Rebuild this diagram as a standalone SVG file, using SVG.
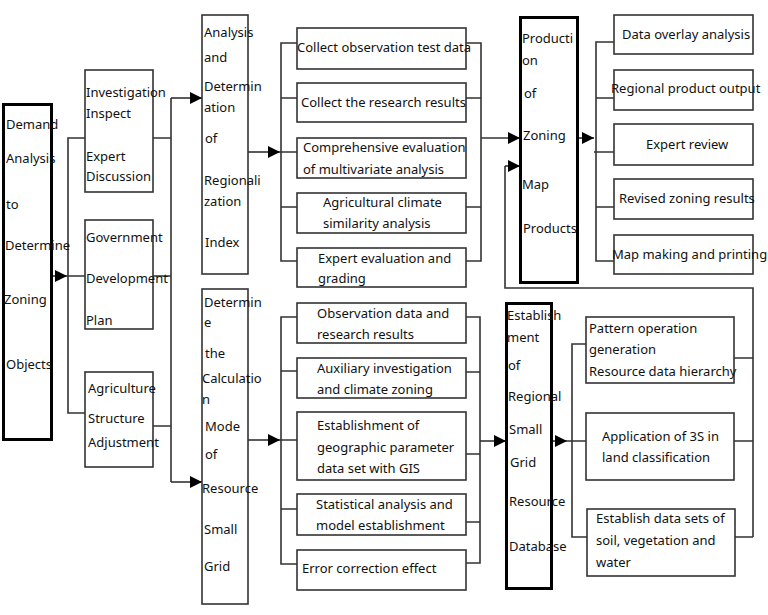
<svg xmlns="http://www.w3.org/2000/svg" width="768" height="615" viewBox="0 0 768 615">
<defs>
<marker id="ah" viewBox="0 0 12 12" refX="12" refY="6" markerWidth="13" markerHeight="12" markerUnits="userSpaceOnUse" orient="auto">
<path d="M0,0 L12,6 L0,12 z" fill="#000"/>
</marker>
<style>
.b{fill:#fff;stroke:#333;stroke-width:1.6}
.tb{fill:#fff;stroke:#000;stroke-width:3}
.c{fill:none;stroke:#333;stroke-width:1.6}
.a{fill:none;stroke:#333;stroke-width:1.6;marker-end:url(#ah)}
text{font-family:"Noto Sans","Open Sans","DejaVu Sans",sans-serif;font-size:13px;fill:#111}
</style>
</defs>
<rect width="768" height="615" fill="#fff"/>

<g id="connectors">
<path class="a" d="M52,276 H67"/>
<path class="c" d="M67,276 H85 M85,138 H68 V413 H85"/>
<path class="c" d="M153,138 H171 M153,276 H171 M153,426 H171 M171,98 V482"/>
<path class="a" d="M171,98 H202"/>
<path class="a" d="M171,482 H202"/>
<path class="a" d="M248,152 H280"/>
<path class="c" d="M297,43 H281 V261 H297 M281,98 H297 M280,152 H297 M281,207 H297"/>
<path class="c" d="M466,43 H481 V261 H466 M466,98 H481 M466,207 H481"/>
<path class="a" d="M481,138 H520"/>
<path class="a" d="M578,138 H594"/>
<path class="c" d="M614,42 H596 V261 H614 M596,98 H614 M594,152 H614 M596,207 H614"/>
<path class="a" d="M248,440 H280"/>
<path class="c" d="M297,317 H281 V564 H297 M281,371 H297 M280,440 H297 M281,509 H297"/>
<path class="c" d="M466,317 H480 V563 H466 M466,372 H480 M466,454 H480 M466,522 H480"/>
<path class="a" d="M480,441 H506"/>
<path class="a" d="M552,441 H567"/>
<path class="c" d="M586,344 H572 V537 H587 M567,441 H586"/>
<path class="c" d="M734,358 H753 M734,441 H753 M735,537 H753 M753,537 V288 H505 V166"/>
<path class="a" d="M505,166 H520"/>
</g>

<g id="n-demand">
<rect class="tb" x="3.5" y="104.5" width="48" height="335"/>
<text x="6" y="129">Demand</text>
<text x="6" y="163">Analysis</text>
<text x="6" y="209">to</text>
<text x="5" y="250">Determine</text>
<text x="4" y="304">Zoning</text>
<text x="6" y="369">Objects</text>
</g>

<g id="n-investigation">
<rect class="b" x="85" y="70" width="68" height="122"/>
<text x="86" y="97">Investigation</text>
<text x="86" y="118">Inspect</text>
<text x="86" y="161">Expert</text>
<text x="86" y="181">Discussion</text>
</g>

<g id="n-government">
<rect class="b" x="85" y="220" width="68" height="109"/>
<text x="86" y="242">Government</text>
<text x="86" y="283">Development</text>
<text x="86" y="325">Plan</text>
</g>

<g id="n-agriculture">
<rect class="b" x="85" y="372" width="68" height="95"/>
<text x="88" y="393">Agriculture</text>
<text x="88" y="423">Structure</text>
<text x="88" y="447">Adjustment</text>
</g>

<g id="n-analysis">
<rect class="b" x="202" y="15" width="46" height="259"/>
<text x="204" y="37">Analysis</text>
<text x="204" y="62">and</text>
<text x="204" y="91">Determin</text>
<text x="204" y="112">ation</text>
<text x="205" y="143">of</text>
<text x="204" y="185">Regionali</text>
<text x="204" y="206">zation</text>
<text x="205" y="247">Index</text>
</g>

<g id="n-determine">
<rect class="b" x="202" y="289" width="46" height="315"/>
<text x="204" y="307">Determin</text>
<text x="204" y="327">e</text>
<text x="205" y="358">the</text>
<text x="202" y="383">Calculatio</text>
<text x="202" y="404">n</text>
<text x="205" y="431">Mode</text>
<text x="205" y="459">of</text>
<text x="202" y="493">Resource</text>
<text x="204" y="534">Small</text>
<text x="204" y="571">Grid</text>
</g>

<g id="n-collect-obs">
<rect class="b" x="297" y="28" width="169" height="41"/>
<text x="297" y="52">Collect observation test data</text>
</g>
<g id="n-collect-res">
<rect class="b" x="297" y="83" width="169" height="39"/>
<text x="301" y="107">Collect the research results</text>
</g>
<g id="n-comprehensive">
<rect class="b" x="297" y="138" width="169" height="40"/>
<text x="303" y="152">Comprehensive evaluation</text>
<text x="303" y="174">of multivariate analysis</text>
</g>
<g id="n-agri-climate">
<rect class="b" x="297" y="193" width="169" height="40"/>
<text x="323" y="207">Agricultural climate</text>
<text x="323" y="228">similarity analysis</text>
</g>
<g id="n-expert-eval">
<rect class="b" x="297" y="248" width="169" height="39"/>
<text x="318" y="263">Expert evaluation and</text>
<text x="318" y="283">grading</text>
</g>

<g id="n-observation">
<rect class="b" x="297" y="303" width="169" height="40"/>
<text x="317" y="318">Observation data and</text>
<text x="317" y="339">research results</text>
</g>
<g id="n-auxiliary">
<rect class="b" x="297" y="358" width="169" height="40"/>
<text x="317" y="373">Auxiliary investigation</text>
<text x="317" y="394">and climate zoning</text>
</g>
<g id="n-gis">
<rect class="b" x="297" y="412" width="169" height="68"/>
<text x="317" y="430">Establishment of</text>
<text x="317" y="452">geographic parameter</text>
<text x="317" y="473">data set with GIS</text>
</g>
<g id="n-statistical">
<rect class="b" x="297" y="494" width="169" height="41"/>
<text x="316" y="509">Statistical analysis and</text>
<text x="316" y="530">model establishment</text>
</g>
<g id="n-error">
<rect class="b" x="297" y="550" width="169" height="40"/>
<text x="302" y="573">Error correction effect</text>
</g>

<g id="n-production">
<rect class="tb" x="520.5" y="17.5" width="57" height="265"/>
<text x="522" y="43">Producti</text>
<text x="522" y="65">on</text>
<text x="524" y="98">of</text>
<text x="523" y="140">Zoning</text>
<text x="522" y="189">Map</text>
<text x="523" y="233">Products</text>
</g>

<g id="n-database">
<rect class="tb" x="506.5" y="303.5" width="45" height="285"/>
<text x="507" y="320">Establish</text>
<text x="507" y="342">ment</text>
<text x="508" y="370">of</text>
<text x="508" y="401">Regional</text>
<text x="509" y="434">Small</text>
<text x="510" y="467">Grid</text>
<text x="509" y="506">Resource</text>
<text x="509" y="551">Database</text>
</g>

<g id="n-overlay">
<rect class="b" x="614" y="15" width="139" height="39"/>
<text x="622" y="39">Data overlay analysis</text>
</g>
<g id="n-regional-output">
<rect class="b" x="614" y="70" width="139" height="40"/>
<text x="611" y="93">Regional product output</text>
</g>
<g id="n-expert-review">
<rect class="b" x="614" y="124" width="139" height="41"/>
<text x="646" y="149">Expert review</text>
</g>
<g id="n-revised">
<rect class="b" x="614" y="179" width="139" height="40"/>
<text x="619" y="203">Revised zoning results</text>
</g>
<g id="n-map-making">
<rect class="b" x="614" y="235" width="139" height="39"/>
<text x="612" y="259">Map making and printing</text>
</g>

<g id="n-pattern">
<rect class="b" x="586" y="317" width="148" height="66"/>
<text x="589" y="333">Pattern operation</text>
<text x="589" y="354">generation</text>
<text x="589" y="376">Resource data hierarchy</text>
</g>
<g id="n-3s">
<rect class="b" x="586" y="413" width="148" height="67"/>
<text x="602" y="441">Application of 3S in</text>
<text x="602" y="462">land classification</text>
</g>
<g id="n-datasets">
<rect class="b" x="587" y="509" width="148" height="67"/>
<text x="596" y="523">Establish data sets of</text>
<text x="596" y="545">soil, vegetation and</text>
<text x="596" y="567">water</text>
</g>
</svg>
